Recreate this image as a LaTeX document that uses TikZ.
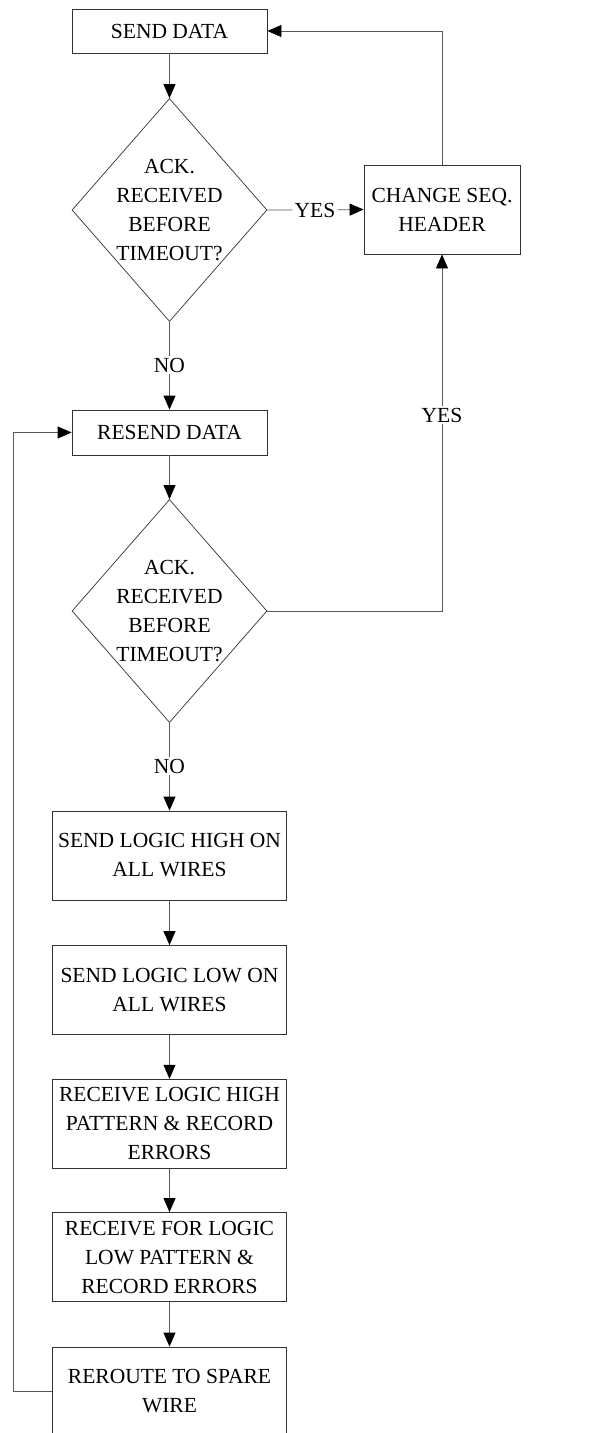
\documentclass[tikz,border=0pt]{standalone}
\usepackage{fontspec}
\setmainfont{Liberation Serif}
\usetikzlibrary{shapes.geometric,arrows.meta}

\tikzset{
  box/.style={draw=black!80, line width=.8pt, align=center, inner sep=2pt},
  smallbox/.style={box, minimum width=195pt, minimum height=44pt},
  bigbox/.style={box, minimum width=233.6pt, minimum height=89pt},
  decision/.style={diamond, draw=black!80, line width=.7pt, inner sep=0pt,
    minimum width=195pt, minimum height=223pt},
  conn/.style={draw=black!65, line width=.8pt, -{Triangle[length=14pt,width=12pt,color=black]}},
  line/.style={draw=black!65, line width=.8pt},
  answer/.style={inner sep=2pt}
}

\begin{document}
\begin{tikzpicture}[x=1pt,y=-1pt,font=\fontsize{21.5pt}{29pt}\selectfont]
    \useasboundingbox (0,0) rectangle (598,1433);

    %% main column
    \node (send) at (169.5,31) [smallbox] {SEND DATA};
    \node (ack1) at (169.5,210) [decision,
      label={[align=center]center:ACK.\\RECEIVED\\BEFORE\\TIMEOUT?}] {};
    \node (change) at (442,209.5) [box, minimum width=156pt, minimum height=89pt]
      {CHANGE SEQ.\\HEADER};
    \node (resend) at (169.5,432.5) [smallbox, minimum height=45pt] {RESEND DATA};
    \node (ack2) at (169.5,611) [decision,
      label={[align=center]center:ACK.\\RECEIVED\\BEFORE\\TIMEOUT?}] {};

    %% wire test
    \node (high) at (169.5,855.5) [bigbox] {SEND LOGIC HIGH ON\\ALL WIRES};
    \node (low) at (169.5,990) [bigbox] {SEND LOGIC LOW ON\\ALL WIRES};
    \node (rxhigh) at (169.5,1123.7) [bigbox] {RECEIVE LOGIC HIGH\\PATTERN \& RECORD\\ERRORS};
    \node (rxlow) at (169.5,1257) [bigbox] {RECEIVE FOR LOGIC\\LOW PATTERN \&\\RECORD ERRORS};
    \node (reroute) at (169.5,1391.5) [bigbox] {REROUTE TO SPARE\\WIRE};

    %% answers
    \node (yes1) at (315,210) [answer] {YES};
    \node (no1) at (169.5,365) [answer] {NO};
    \node (yes2) at (442,415) [answer] {YES};
    \node (no2) at (169.5,766) [answer] {NO};
    \coordinate (back) at (13.7,1391.5);

    %% connectors
    \draw[conn] (send) -- (ack1);
    \draw[conn] (ack1.east) -- (yes1) -- (change.west);
    \draw[conn] (change.north) |- (send.east);
    \draw[line] (ack1.south) -- (no1);
    \draw[conn] (no1) -- (resend);
    \draw[conn] (resend) -- (ack2);
    \draw[line] (ack2.east) -| (yes2);
    \draw[conn] (yes2) -- (change.south);
    \draw[line] (ack2.south) -- (no2);
    \draw[conn] (no2) -- (high);
    \draw[conn] (high) -- (low);
    \draw[conn] (low) -- (rxhigh);
    \draw[conn] (rxhigh) -- (rxlow);
    \draw[conn] (rxlow) -- (reroute);
    \draw[conn] (reroute.west) -- (back) |- (resend.west);
\end{tikzpicture}
\end{document}
